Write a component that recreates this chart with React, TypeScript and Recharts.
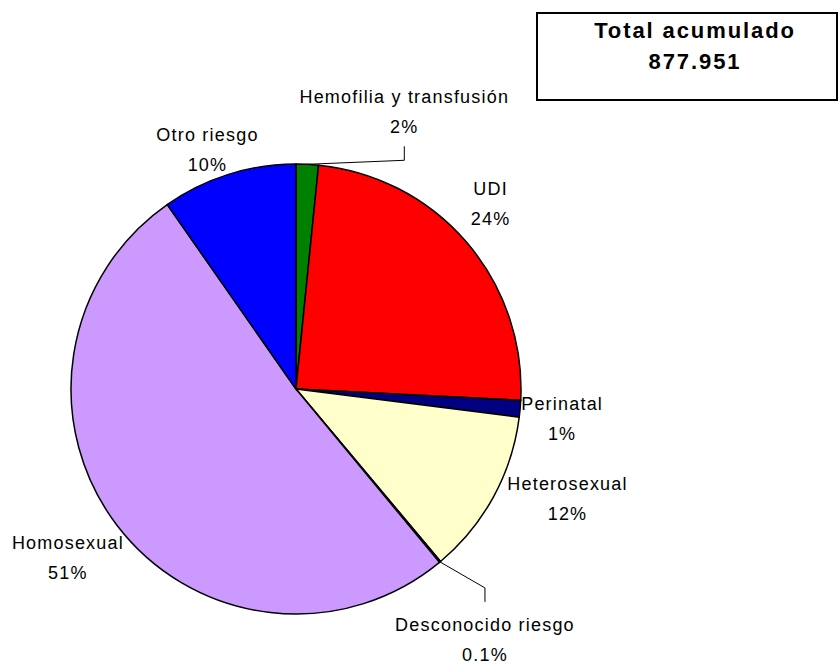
import { PieChart, Pie, Cell } from 'recharts';

const categories = [
  'Hemofilia y transfusión',
  'UDI',
  'Perinatal',
  'Heterosexual',
  'Desconocido riesgo',
  'Homosexual',
  'Otro riesgo',
];
const shares = [1.6, 24.2, 1.2, 11.9, 0.1, 51.3, 9.7];
const shareLabels = ['2%', '24%', '1%', '12%', '0.1%', '51%', '10%'];
const colors = ['#008000', '#FF0000', '#000080', '#FFFFCC', '#CCFFFF', '#CC99FF', '#0000FF'];

const totalTitle = 'Total acumulado';
const totalValue = '877.951';

const data = categories.map((name, i) => ({ name, value: shares[i] }));

// where each label sits, relative to the outer edge of its slice
const labelOffset: Record<string, [number, number]> = {
  'Hemofilia y transfusión': [97, -54],
  UDI: [24, -40],
  Perinatal: [42, 8],
  Heterosexual: [74, 0],
  'Desconocido riesgo': [45, 76],
  Homosexual: [-49, 31],
  'Otro riesgo': [-21, -26],
};
const withLeader = ['Hemofilia y transfusión', 'Desconocido riesgo'];

const RAD = Math.PI / 180;
const font = '"Liberation Sans", Arial, sans-serif';

function renderLabel(props: any) {
  const { cx, cy, midAngle, outerRadius, index } = props;
  const name = categories[index];
  const ex = cx + outerRadius * Math.cos(-midAngle * RAD);
  const ey = cy + outerRadius * Math.sin(-midAngle * RAD);
  const [dx, dy] = labelOffset[name];
  const lx = ex + dx;
  const ly = ey + dy;
  let leader = null;
  if (withLeader.includes(name)) {
    const dir = ly < ey ? 1 : -1;
    const endY = ly + dir * 36;
    const elbowY = endY + dir * 14;
    leader = (
      <polyline
        points={`${ex},${ey} ${lx},${elbowY} ${lx},${endY}`}
        fill="none"
        stroke="#000"
        strokeWidth={1}
      />
    );
  }
  return (
    <g key={`lbl-${index}`}>
      {leader}
      <text
        x={lx}
        y={ly - 7}
        textAnchor="middle"
        fontFamily={font}
        fontSize={18}
        letterSpacing={1.2}
        fill="#000"
      >
        <tspan x={lx}>{name}</tspan>
        <tspan x={lx} dy={30}>{shareLabels[index]}</tspan>
      </text>
    </g>
  );
}

export default function App() {
  return (
    <div style={{ position: 'absolute', left: 0, top: 0, width: 839, height: 664, background: '#fff' }}>
      <PieChart width={839} height={664} margin={{ top: 0, right: 0, bottom: 0, left: 0 }}>
        <Pie
          data={data}
          dataKey="value"
          nameKey="name"
          cx={296}
          cy={389}
          outerRadius={225}
          startAngle={90}
          endAngle={-270}
          stroke="#000"
          strokeWidth={1.5}
          label={renderLabel}
          labelLine={false}
          isAnimationActive={false}
        >
          {data.map((d, i) => (
            <Cell key={d.name} fill={colors[i]} stroke="#000" strokeWidth={1.5} />
          ))}
        </Pie>
      </PieChart>
      <div
        style={{
          position: 'absolute',
          left: 536,
          top: 12,
          width: 302,
          height: 89,
          boxSizing: 'border-box',
          border: '2px solid #000',
        }}
      />
      <div
        style={{
          position: 'absolute',
          left: 545,
          top: 15,
          width: 300,
          textAlign: 'center',
          fontFamily: font,
          fontWeight: 'bold',
          fontSize: 22,
          letterSpacing: 1.9,
          lineHeight: '31px',
          color: '#000',
        }}
      >
        <div>{totalTitle}</div>
        <div>{totalValue}</div>
      </div>
    </div>
  );
}
